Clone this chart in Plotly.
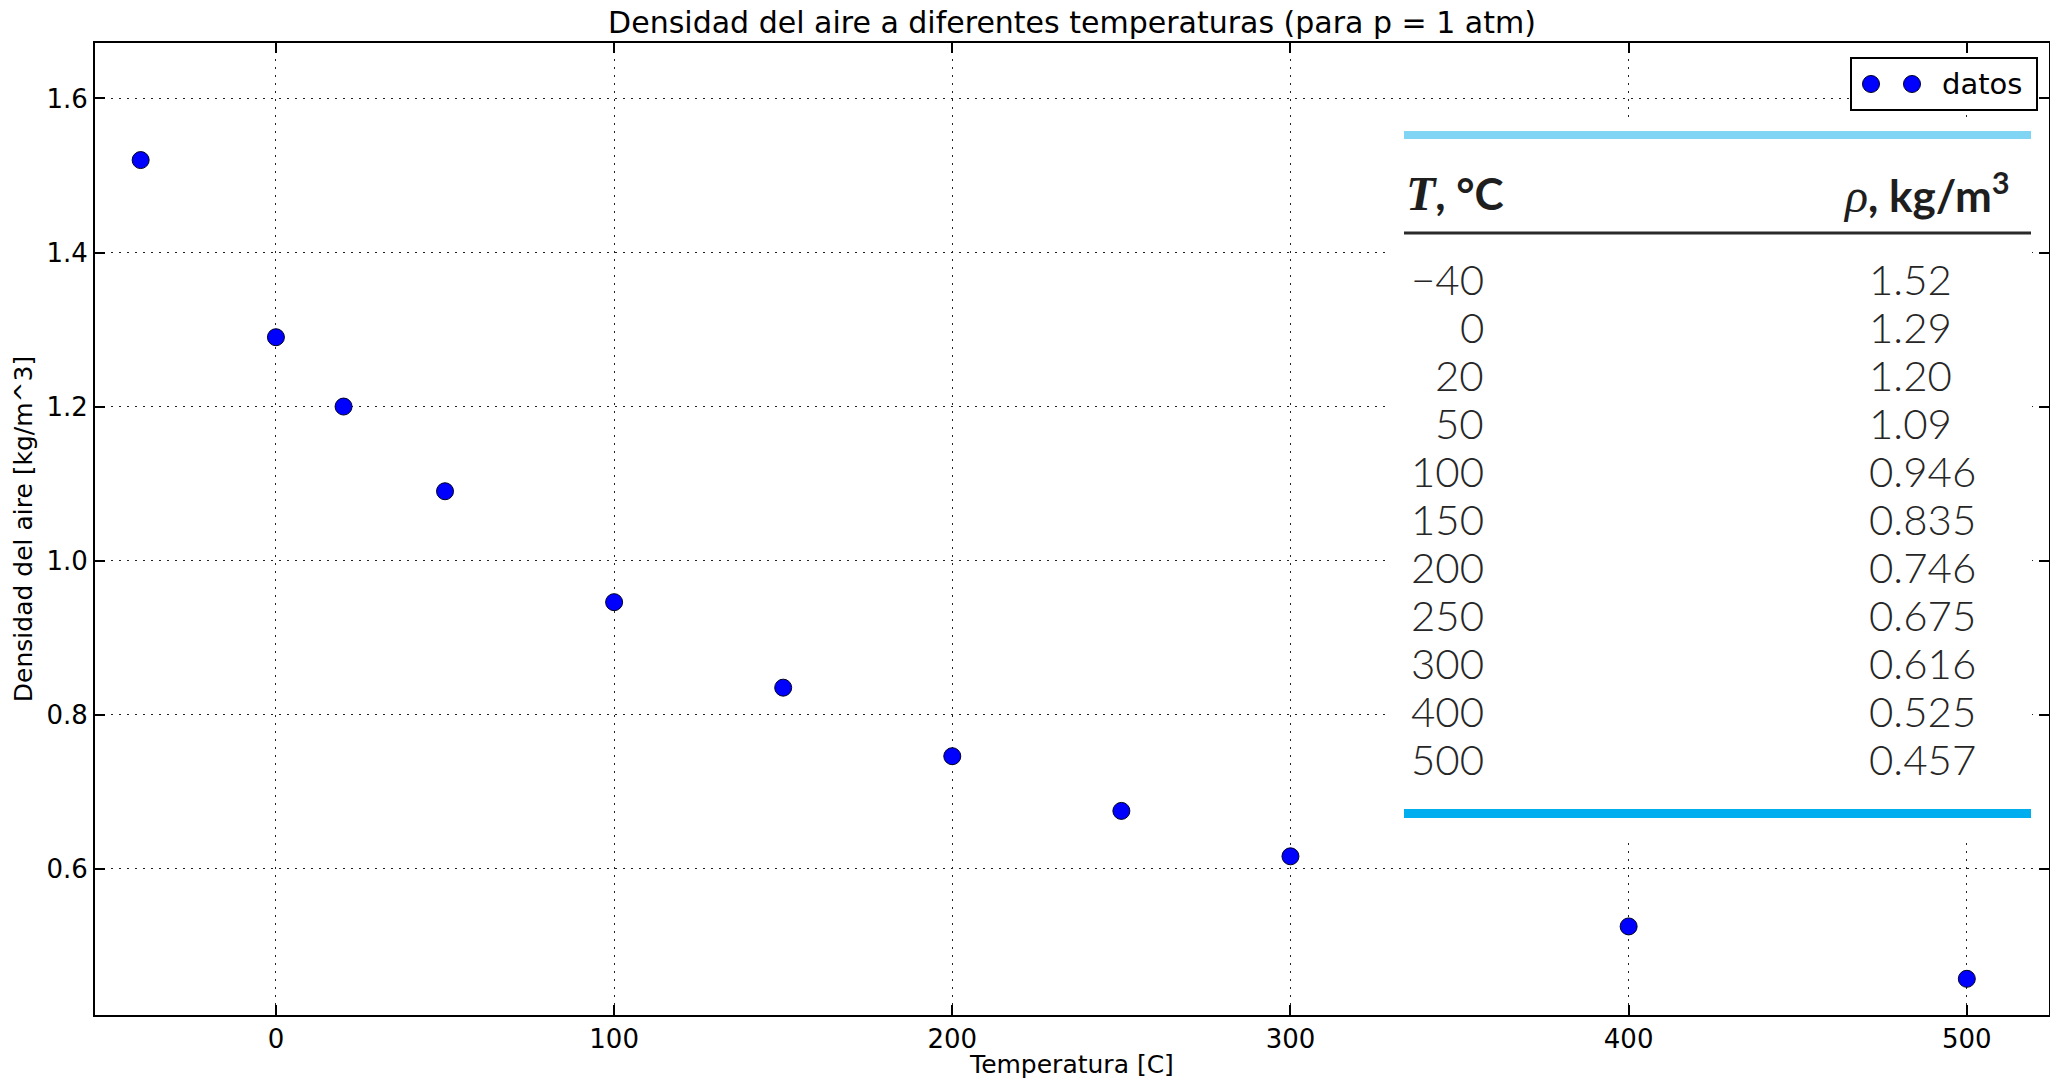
import plotly.graph_objects as go

# ---- data ----
temperatura = [-40, 0, 20, 50, 100, 150, 200, 250, 300, 400, 500]
densidad = [1.52, 1.29, 1.20, 1.09, 0.946, 0.835, 0.746, 0.675, 0.616, 0.525, 0.457]
tabla_T = ["\u221240", "0", "20", "50", "100", "150", "200", "250", "300", "400", "500"]
tabla_rho = ["1.52", "1.29", "1.20", "1.09", "0.946", "0.835", "0.746", "0.675", "0.616", "0.525", "0.457"]
x_ticks = [0, 100, 200, 300, 400, 500]
y_ticks = [0.6, 0.8, 1.0, 1.2, 1.4, 1.6]
serie_nombre = "datos"

W, H = 2050, 1079
# plot area in page pixels
L, R, T, B = 95, 2049, 43, 1015


def px(x):
    return (x - L) / (R - L)


def py(y):
    return (B - y) / (B - T)


MARKER = dict(color="#0000ff", size=17, line=dict(color="#000022", width=1))

fig = go.Figure()
fig.add_trace(go.Scatter(
    x=temperatura, y=densidad, mode="markers", name=serie_nombre,
    marker=MARKER, showlegend=False,
))

axis_common = dict(
    showline=True, linecolor="black", linewidth=2, mirror="ticks",
    ticks="inside", ticklen=10, tickwidth=1.5, tickcolor="black",
    showgrid=True, gridcolor="#222222", gridwidth=1.3, griddash="2px,6px",
    zeroline=False, automargin=False,
    tickfont=dict(family="DejaVu Sans", size=26, color="black"),
)

fig.update_xaxes(
    range=[-53.5, 524.3], tickvals=x_ticks,
    title=dict(text="Temperatura [C]", font=dict(family="DejaVu Sans", size=25, color="black"), standoff=4),
    **axis_common,
)
fig.update_yaxes(
    range=[0.41, 1.672], tickvals=y_ticks, tickformat=".1f",
    title=dict(text="Densidad del aire [kg/m^3]", font=dict(family="DejaVu Sans", size=25, color="black"), standoff=7),
    **axis_common,
)

shapes = []
# inset table: white background, rules
shapes.append(dict(type="rect", xref="paper", yref="paper",
                   x0=px(1385), x1=px(2032), y0=py(838), y1=py(120),
                   fillcolor="white", line=dict(width=0), layer="above"))
shapes.append(dict(type="rect", xref="paper", yref="paper",
                   x0=px(1404), x1=px(2031), y0=py(139), y1=py(131),
                   fillcolor="#80d5f5", line=dict(width=0), layer="above"))
shapes.append(dict(type="line", xref="paper", yref="paper",
                   x0=px(1404), x1=px(2031), y0=py(233), y1=py(233),
                   line=dict(color="#2a2a2a", width=3), layer="above"))
shapes.append(dict(type="rect", xref="paper", yref="paper",
                   x0=px(1404), x1=px(2031), y0=py(818), y1=py(809),
                   fillcolor="#00aeef", line=dict(width=0), layer="above"))

# legend box (matplotlib style, two points)
shapes.append(dict(type="rect", xref="paper", yref="paper",
                   x0=px(1851), x1=px(2037), y0=py(110), y1=py(58),
                   fillcolor="white", line=dict(color="black", width=2), layer="above"))
for cx in (1871, 1912):
    shapes.append(dict(type="circle", xref="paper", yref="paper",
                       x0=px(cx - 8.5), x1=px(cx + 8.5), y0=py(84 + 8.5), y1=py(84 - 8.5),
                       fillcolor=MARKER["color"], line=dict(color="#000022", width=1), layer="above"))

annotations = []
annotations.append(dict(
    xref="paper", yref="paper", x=px(1940), y=py(84), xanchor="left", yanchor="middle",
    text=serie_nombre, showarrow=False,
    font=dict(family="DejaVu Sans", size=29, color="black"),
))
annotations.append(dict(
    xref="paper", yref="paper", x=px(1404), y=py(193), xanchor="left", yanchor="middle",
    text='<span style="font-family:Liberation Serif;font-size:48px"><b><i>T</i></b></span><b>, \u00b0C</b>',
    showarrow=False, font=dict(family="Lato", size=44, color="#1e1e1e"),
))
annotations.append(dict(
    xref="paper", yref="paper", x=px(2012), y=py(193), xanchor="right", yanchor="middle",
    text='<span style="font-family:Liberation Serif;font-size:48px"><i>\u03c1</i></span><b>, kg/m<sup>3</sup></b>',
    showarrow=False, font=dict(family="Lato", size=44, color="#1e1e1e"),
))
for i, (t, r) in enumerate(zip(tabla_T, tabla_rho)):
    yc = 279 + 48 * i
    annotations.append(dict(
        xref="paper", yref="paper", x=px(1486), y=py(yc), xanchor="right", yanchor="middle",
        text=t, showarrow=False, font=dict(family="Lato", size=42, color="#262626", weight=300),
    ))
    annotations.append(dict(
        xref="paper", yref="paper", x=px(1867), y=py(yc), xanchor="left", yanchor="middle",
        text=r, showarrow=False, font=dict(family="Lato", size=42, color="#262626", weight=300),
    ))

fig.update_layout(
    width=W, height=H, autosize=False,
    margin=dict(l=L, r=W - R, t=T, b=H - B, pad=0),
    paper_bgcolor="white", plot_bgcolor="white",
    title=dict(text="Densidad del aire a diferentes temperaturas (para p = 1 atm)",
               x=0.5, xanchor="center", xref="paper",
               y=1 - 22 / H, yanchor="middle", yref="container",
               font=dict(family="DejaVu Sans", size=30, color="black")),
    showlegend=False,
    hovermode=False,
    shapes=shapes, annotations=annotations,
)

fig.write_html("out.html",
               config={"displayModeBar": False},
               post_script="document.body.style.margin='0';document.body.style.overflow='hidden';")
